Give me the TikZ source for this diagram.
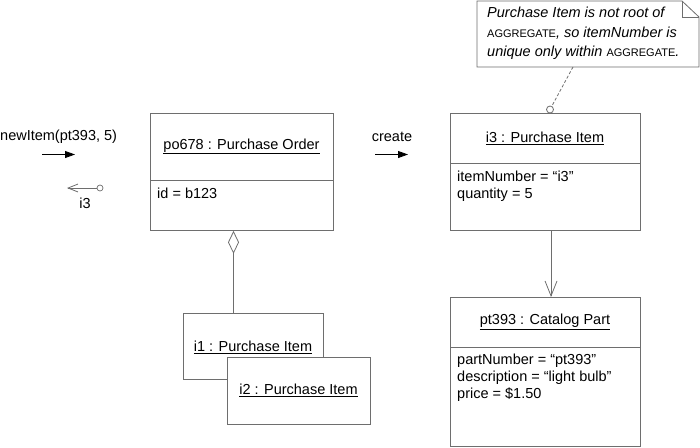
\documentclass[tikz,border=0pt]{standalone}
\usepackage{fontspec}
\setmainfont{Liberation Sans}
\usetikzlibrary{arrows.meta}
\definecolor{ln}{HTML}{6E6E6E}
\tikzset{
  obj/.style={draw=ln, line width=0.8pt, anchor=north west, inner sep=0pt},
  txt/.style={inner sep=0pt, font=\fontsize{14.5}{17}\selectfont, text=black},
  attr/.style={txt, anchor=north west, align=left},
  conn/.style={draw=ln, line width=0.8pt},
}
\begin{document}
\begin{tikzpicture}[x=1pt,y=-1pt]
\useasboundingbox (0,0) rectangle (700,447);
% boxes
\node[obj, minimum width=183pt, minimum height=117pt] (po) at (150,113) {};
\draw[conn] (150,180) -- (333,180);
\node[txt] (pot) at (241.5,146.5) {\underline{po678 : Purchase Order}};
\node[attr] (poa) at (157,188) {id = b123};

\node[obj, minimum width=140pt, minimum height=66pt] (i1) at (183,313) {};
\node[txt] (i1t) at (253,347) {\underline{i1 : Purchase Item}};
\node[obj, fill=white, minimum width=143pt, minimum height=67pt] (i2) at (227,357) {};
\node[txt] (i2t) at (298.5,390) {\underline{i2 : Purchase Item}};

\node[obj, minimum width=190pt, minimum height=117pt] (i3) at (450,113) {};
\draw[conn] (450,163) -- (640,163);
\node[txt] (i3t) at (545,138) {\underline{i3 : Purchase Item}};
\node[attr] (i3a) at (457,171) {itemNumber = “i3”\\quantity = 5};

\node[obj, minimum width=190pt, minimum height=149pt] (pt) at (450,297) {};
\draw[conn] (450,347) -- (640,347);
\node[txt] (ptt) at (545,322) {\underline{pt393 : Catalog Part}};
\node[attr] (pta) at (457,354) {partNumber = “pt393”\\description = “light bulb”\\price = \$1.50};

% aggregation
\coordinate (aggx) at (233.5,0);
\draw[conn, -{Diamond[open,length=23pt,width=11pt]}] (i1.north -| aggx) -- (po.south -| aggx);
% association
\coordinate (assx) at (551,0);
\draw[conn, -{Straight Barb[length=15pt,width=12pt]}] (i3.south -| assx) -- (pt.north -| assx);

% note
\node[inner sep=0pt, minimum width=222pt, minimum height=66pt, anchor=north west] (note) at (477,1) {};
\draw[draw=ln, line width=0.8pt, fill=white] (477,1) -- (682,1) -- (699,17) -- (699,67) -- (477,67) -- cycle;
\draw[draw=ln, line width=0.8pt] (682,1) -- (682,17) -- (699,17);
\node[attr, font=\fontsize{14.5}{19.5}\selectfont\itshape] (notet) at (487,7)
  {Purchase Item is not root of\\{\fontsize{11}{19.5}\selectfont\upshape AGGREGATE}, so itemNumber is\\unique only within {\fontsize{11}{19.5}\selectfont\upshape AGGREGATE}.};
\node[circle, draw=ln, line width=0.8pt, fill=white, minimum size=7pt, inner sep=0pt] (anch) at (550,109.5) {};
\coordinate (nb) at (573,67);
\draw[conn, dashed, dash pattern=on 3pt off 2pt] (nb) -- (anch);

% messages
\node[txt, anchor=west] (msg) at (0,137) {newItem(pt393, 5)};
\coordinate (m1a) at (42,154.5);
\coordinate (m1b) at (75,154.5);
\draw[draw=black, line width=0.8pt, -{Triangle[length=10pt,width=7pt]}] (m1a) -- (m1b);
\node[circle, draw=ln, line width=0.7pt, fill=white, minimum size=6pt, inner sep=0pt] (rc) at (100,188) {};
\coordinate (rb) at (67,188);
\draw[conn, -{Straight Barb[length=10pt,width=8pt]}] (rc) -- (rb);
\node[txt] (ret) at (85,203) {i3};

\node[txt] (cr) at (392,137) {create};
\coordinate (c1a) at (375,154.5);
\coordinate (c1b) at (408,154.5);
\draw[draw=black, line width=0.8pt, -{Triangle[length=10pt,width=7pt]}] (c1a) -- (c1b);
\end{tikzpicture}
\end{document}
